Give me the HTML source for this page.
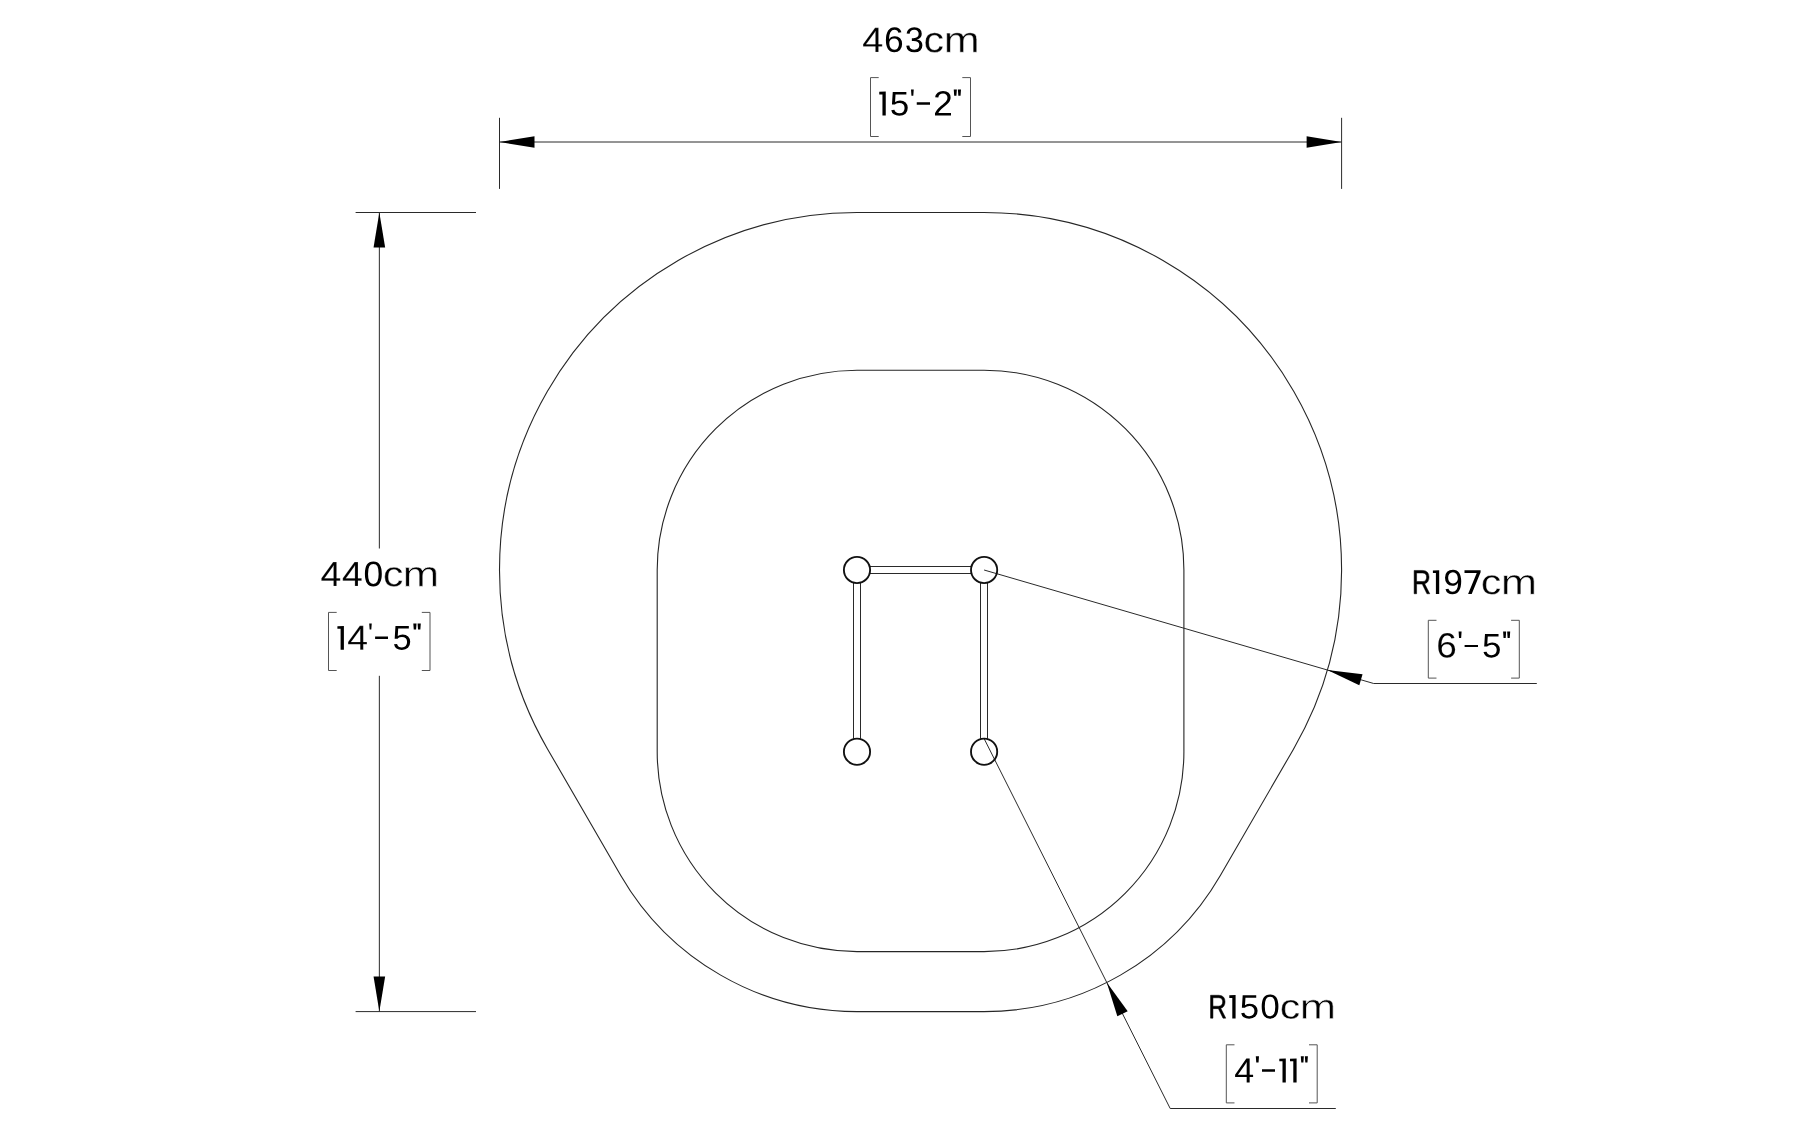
<!DOCTYPE html>
<html><head><meta charset="utf-8"><style>
html,body{margin:0;padding:0;background:#fff;width:1800px;height:1125px;overflow:hidden;font-family:"Liberation Sans",sans-serif}
svg{display:block}
.shape{fill:none;stroke:#262626;stroke-width:1.1}
.ext{stroke:#2a2a2a;stroke-width:1.0}
.dim{stroke:#2a2a2a;stroke-width:1.0;fill:none}
.br{fill:none;stroke:#555;stroke-width:1.0;stroke-linejoin:round;stroke-linecap:round}
.bar{fill:none;stroke:#2a2a2a;stroke-width:1.0}
.node{fill:none;stroke:#111;stroke-width:1.85}
</style></head><body>
<svg width="1800" height="1125" viewBox="0 0 1800 1125">
<path d='M 857.00 212.50 L 984.10 212.50 A 357.5 357.5 0 0 1 1293.46 749.17 L 1220.34 875.42 A 273.0 273.0 0 0 1 984.10 1011.60 L 857.00 1011.60 A 273.0 273.0 0 0 1 620.76 875.42 L 547.64 749.17 A 357.5 357.5 0 0 1 857.00 212.50 Z' class='shape'/>
<path d='M 857.00 370.20 L 984.10 370.20 A 199.8 199.8 0 0 1 1183.90 570.00 L 1183.90 751.80 A 199.8 199.8 0 0 1 984.10 951.60 L 857.00 951.60 A 199.8 199.8 0 0 1 657.20 751.80 L 657.20 570.00 A 199.8 199.8 0 0 1 857.00 370.20 Z' class='shape'/>
<line x1='499.5' y1='117.8' x2='499.5' y2='188.9' class='ext'/>
<line x1='1341.6' y1='117.8' x2='1341.6' y2='188.9' class='ext'/>
<line x1='499.5' y1='142.0' x2='1341.6' y2='142.0' class='dim'/>
<polygon points='499.50,142.00 534.50,147.80 534.50,136.20' fill='#000'/>
<polygon points='1341.60,142.00 1306.60,136.20 1306.60,147.80' fill='#000'/>
<line x1='355.6' y1='212.5' x2='476' y2='212.5' class='ext'/>
<line x1='355.6' y1='1011.6' x2='476' y2='1011.6' class='ext'/>
<line x1='379.35' y1='212.5' x2='379.35' y2='548.5' class='dim'/>
<line x1='379.35' y1='675.8' x2='379.35' y2='1011.6' class='dim'/>
<polygon points='379.35,212.50 373.55,247.50 385.15,247.50' fill='#000'/>
<polygon points='379.35,1011.60 385.15,976.60 373.55,976.60' fill='#000'/>
<polyline points='984.10,570.00 1373.70,683.50 1536.8,683.50' class='dim' fill='none'/>
<polygon points='1327.33,669.99 1359.31,685.35 1362.56,674.21' fill='#000'/>
<polyline points='984.10,738.60 1170.20,1108.50 1335.8,1108.50' class='dim' fill='none'/>
<polygon points='1106.80,982.47 1117.34,1016.35 1127.71,1011.13' fill='#000'/>
<path d='M 870 566.5 H 971 M 870 573.5 H 971' class='bar'/>
<path d='M 853.5 583 V 738.5 H 860.5 V 583 M 980.5 583 V 738.5 H 987.5 V 583' class='bar'/>
<circle cx='857.0' cy='570.0' r='13.1' class='node'/>
<circle cx='984.1' cy='570.0' r='13.1' class='node'/>
<circle cx='857.0' cy='751.7' r='13.1' class='node'/>
<circle cx='984.1' cy='751.7' r='13.1' class='node'/>
<path fill='#000' d='M902.10 43.97Q902.10 47.83 900.03 50.07Q897.95 52.30 894.30 52.30Q890.22 52.30 888.06 49.24Q885.90 46.17 885.90 40.32Q885.90 33.99 888.15 30.59Q890.39 27.20 894.54 27.20Q900.01 27.20 901.43 32.17L898.48 32.70Q897.57 29.73 894.51 29.73Q891.87 29.73 890.42 32.21Q888.97 34.70 888.97 39.40Q889.81 37.83 891.33 37.01Q892.86 36.18 894.83 36.18Q898.17 36.18 900.14 38.30Q902.10 40.41 902.10 43.97ZM898.96 44.11Q898.96 41.46 897.68 40.03Q896.39 38.59 894.09 38.59Q891.93 38.59 890.61 39.86Q889.28 41.13 889.28 43.37Q889.28 46.19 890.66 47.99Q892.04 49.79 894.20 49.79Q896.43 49.79 897.69 48.28Q898.96 46.76 898.96 44.11ZM922.40 45.22Q922.40 48.60 920.33 50.45Q918.26 52.30 914.43 52.30Q910.85 52.30 908.73 50.63Q906.60 48.96 906.20 45.69L909.30 45.39Q909.90 49.72 914.43 49.72Q916.69 49.72 917.99 48.56Q919.28 47.40 919.28 45.12Q919.28 43.13 917.80 42.01Q916.33 40.89 913.54 40.89L911.84 40.89L911.84 38.19L913.47 38.19Q915.94 38.19 917.30 37.08Q918.66 35.96 918.66 33.99Q918.66 32.03 917.55 30.90Q916.44 29.76 914.26 29.76Q912.27 29.76 911.05 30.82Q909.82 31.87 909.62 33.80L906.60 33.55Q906.93 30.56 908.99 28.88Q911.05 27.20 914.29 27.20Q917.83 27.20 919.79 28.91Q921.75 30.61 921.75 33.66Q921.75 35.99 920.49 37.46Q919.23 38.92 916.83 39.44L916.83 39.51Q919.46 39.80 920.93 41.34Q922.40 42.88 922.40 45.22ZM879.25 91.80L885.75 91.50L885.75 115.50L882.45 115.50L882.45 94.40L879.25 94.40ZM907.75 107.82Q907.75 111.54 905.50 113.67Q903.25 115.80 899.25 115.80Q895.91 115.80 893.85 114.37Q891.79 112.94 891.25 110.22L894.34 109.87Q895.31 113.35 899.32 113.35Q901.79 113.35 903.18 111.89Q904.57 110.44 904.57 107.89Q904.57 105.67 903.17 104.31Q901.77 102.94 899.39 102.94Q898.15 102.94 897.08 103.33Q896.01 103.71 894.94 104.62L891.95 104.62L892.75 92.00L906.36 92.00L906.36 94.55L895.53 94.55L895.07 101.99Q897.06 100.49 900.02 100.49Q903.55 100.49 905.65 102.53Q907.75 104.56 907.75 107.82ZM911.00 89.50L913.75 89.50L913.30 95.75L911.45 95.75ZM916.75 102.25H930.00V104.75H916.75ZM935.00 115.50L935.00 113.32Q935.87 111.32 937.14 109.79Q938.40 108.25 939.78 107.01Q941.17 105.77 942.54 104.71Q943.90 103.64 945.00 102.58Q946.10 101.52 946.77 100.35Q947.45 99.19 947.45 97.72Q947.45 95.73 946.28 94.63Q945.12 93.54 943.04 93.54Q941.07 93.54 939.79 94.61Q938.52 95.68 938.29 97.61L935.14 97.32Q935.48 94.43 937.60 92.71Q939.72 91.00 943.04 91.00Q946.70 91.00 948.66 92.72Q950.62 94.44 950.62 97.61Q950.62 99.02 949.98 100.41Q949.34 101.79 948.07 103.18Q946.80 104.57 943.21 107.48Q941.24 109.09 940.08 110.39Q938.91 111.68 938.40 112.88L951.00 112.88L951.00 115.50ZM953.75 89.50L956.87 89.50L956.42 95.75L954.20 95.75ZM957.88 89.50L961.00 89.50L960.55 95.75L958.33 95.75ZM381.80 573.95Q381.80 580.01 379.65 583.21Q377.50 586.40 373.31 586.40Q369.11 586.40 367.01 583.22Q364.90 580.05 364.90 573.95Q364.90 567.72 366.95 564.61Q368.99 561.50 373.41 561.50Q377.71 561.50 379.75 564.64Q381.80 567.79 381.80 573.95ZM378.64 573.95Q378.64 568.71 377.42 566.36Q376.21 564.01 373.41 564.01Q370.54 564.01 369.29 566.33Q368.04 568.64 368.04 573.95Q368.04 579.10 369.31 581.49Q370.58 583.88 373.34 583.88Q376.09 583.88 377.36 581.44Q378.64 579.00 378.64 573.95ZM337.40 626.20L343.90 625.90L343.90 649.70L340.60 649.70L340.60 628.80L337.40 628.80ZM369.20 623.40L371.75 623.40L371.30 629.60L369.65 629.60ZM375.10 636.50H388.00V638.90H375.10ZM410.20 641.86Q410.20 645.60 407.99 647.75Q405.78 649.90 401.86 649.90Q398.57 649.90 396.55 648.46Q394.53 647.01 394.00 644.27L397.04 643.92Q397.99 647.43 401.92 647.43Q404.34 647.43 405.71 645.96Q407.08 644.49 407.08 641.92Q407.08 639.69 405.70 638.31Q404.33 636.93 401.99 636.93Q400.77 636.93 399.72 637.32Q398.67 637.71 397.62 638.63L394.68 638.63L395.47 625.90L408.83 625.90L408.83 628.47L398.20 628.47L397.75 635.98Q399.71 634.47 402.61 634.47Q406.08 634.47 408.14 636.51Q410.20 638.56 410.20 641.86ZM413.30 623.40L416.53 623.40L416.08 629.60L413.75 629.60ZM417.57 623.40L420.80 623.40L420.35 629.60L418.02 629.60ZM1432.90 570.50L1439.20 570.20L1439.20 594.00L1435.90 594.00L1435.90 573.10L1432.90 573.10ZM1461.20 581.52Q1461.20 587.68 1458.93 590.99Q1456.66 594.30 1452.47 594.30Q1449.64 594.30 1447.94 593.12Q1446.23 591.94 1445.50 589.31L1448.44 588.85Q1449.37 591.84 1452.52 591.84Q1455.17 591.84 1456.63 589.40Q1458.08 586.95 1458.15 582.42Q1457.47 583.95 1455.81 584.88Q1454.14 585.80 1452.16 585.80Q1448.90 585.80 1446.95 583.59Q1445.00 581.39 1445.00 577.74Q1445.00 573.99 1447.12 571.85Q1449.25 569.70 1453.03 569.70Q1457.06 569.70 1459.13 572.65Q1461.20 575.60 1461.20 581.52ZM1457.84 578.57Q1457.84 575.69 1456.51 573.93Q1455.17 572.18 1452.93 572.18Q1450.70 572.18 1449.42 573.68Q1448.13 575.18 1448.13 577.74Q1448.13 580.35 1449.42 581.87Q1450.70 583.39 1452.89 583.39Q1454.23 583.39 1455.38 582.79Q1456.52 582.19 1457.18 581.08Q1457.84 579.98 1457.84 578.57ZM1464.50 570.20L1480.60 570.20L1480.60 572.30L1471.71 594.00L1468.11 594.00L1476.74 572.90L1464.50 572.90ZM1458.60 631.40L1461.60 631.40L1461.15 638.10L1459.05 638.10ZM1464.60 645.00H1478.00V647.10H1464.60ZM1499.90 649.72Q1499.90 653.44 1497.66 655.57Q1495.42 657.70 1491.46 657.70Q1488.13 657.70 1486.08 656.27Q1484.04 654.84 1483.50 652.12L1486.57 651.77Q1487.54 655.25 1491.52 655.25Q1493.97 655.25 1495.36 653.79Q1496.74 652.34 1496.74 649.79Q1496.74 647.57 1495.35 646.21Q1493.95 644.84 1491.59 644.84Q1490.36 644.84 1489.29 645.23Q1488.23 645.61 1487.17 646.52L1484.19 646.52L1484.99 633.90L1498.52 633.90L1498.52 636.45L1487.76 636.45L1487.30 643.89Q1489.28 642.39 1492.22 642.39Q1495.73 642.39 1497.81 644.43Q1499.90 646.46 1499.90 649.72ZM1503.10 631.40L1506.15 631.40L1505.70 638.10L1503.55 638.10ZM1507.15 631.40L1510.20 631.40L1509.75 638.10L1507.60 638.10ZM1229.30 995.30L1235.60 995.00L1235.60 1018.40L1232.30 1018.40L1232.30 997.90L1229.30 997.90ZM1257.60 1010.86Q1257.60 1014.51 1255.36 1016.60Q1253.12 1018.70 1249.16 1018.70Q1245.83 1018.70 1243.78 1017.29Q1241.74 1015.88 1241.20 1013.21L1244.27 1012.87Q1245.24 1016.29 1249.22 1016.29Q1251.67 1016.29 1253.06 1014.86Q1254.44 1013.43 1254.44 1010.92Q1254.44 1008.74 1253.05 1007.40Q1251.65 1006.06 1249.29 1006.06Q1248.06 1006.06 1246.99 1006.44Q1245.93 1006.81 1244.87 1007.71L1241.89 1007.71L1242.69 995.30L1256.22 995.30L1256.22 997.81L1245.46 997.81L1245.00 1005.13Q1246.98 1003.65 1249.92 1003.65Q1253.43 1003.65 1255.51 1005.65Q1257.60 1007.65 1257.60 1010.86ZM1278.40 1006.55Q1278.40 1012.47 1276.28 1015.58Q1274.15 1018.70 1270.01 1018.70Q1265.86 1018.70 1263.78 1015.60Q1261.70 1012.50 1261.70 1006.55Q1261.70 1000.47 1263.72 997.43Q1265.74 994.40 1270.11 994.40Q1274.36 994.40 1276.38 997.47Q1278.40 1000.53 1278.40 1006.55ZM1275.28 1006.55Q1275.28 1001.44 1274.08 999.14Q1272.87 996.85 1270.11 996.85Q1267.28 996.85 1266.04 999.11Q1264.80 1001.37 1264.80 1006.55Q1264.80 1011.58 1266.06 1013.91Q1267.31 1016.24 1270.04 1016.24Q1272.75 1016.24 1274.02 1013.86Q1275.28 1011.48 1275.28 1006.55ZM1249.65 1077.12L1249.65 1082.60L1246.68 1082.60L1246.68 1077.12L1235.10 1077.12L1235.10 1074.72L1246.35 1058.40L1249.65 1058.40L1249.65 1074.68L1253.10 1074.68L1253.10 1077.12ZM1246.68 1061.89Q1246.65 1061.99 1246.19 1062.80Q1245.74 1063.60 1245.51 1063.93L1239.22 1073.07L1238.27 1074.34L1238.00 1074.68L1246.68 1074.68ZM1255.80 1056.30L1259.00 1056.30L1258.55 1062.50L1256.25 1062.50ZM1262.00 1069.20H1275.00V1071.70H1262.00ZM1279.30 1058.70L1285.80 1058.40L1285.80 1082.60L1282.50 1082.60L1282.50 1061.30L1279.30 1061.30ZM1290.00 1058.70L1296.60 1058.40L1296.60 1082.60L1293.30 1082.60L1293.30 1061.30L1290.00 1061.30ZM1300.80 1056.30L1303.85 1056.30L1303.40 1062.50L1301.25 1062.50ZM1304.85 1056.30L1307.90 1056.30L1307.45 1062.50L1305.30 1062.50Z'/>
<path fill='#000' stroke='#fff' stroke-width='0.23' stroke-linejoin='round' d='M878.54 46.61L878.54 52.11L875.39 52.11L875.39 46.61L863.09 46.61L863.09 44.19L875.04 27.79L878.54 27.79L878.54 44.15L882.21 44.15L882.21 46.61ZM875.39 31.29Q875.36 31.40 874.87 32.21Q874.39 33.02 874.15 33.35L867.46 42.53L866.46 43.81L866.16 44.15L875.39 44.15Z'/>
<path fill='#000' stroke='#fff' stroke-width='0.42' stroke-linejoin='round' d='M929.04 42.56Q929.04 46.36 930.40 48.19Q931.75 50.02 934.49 50.02Q936.41 50.02 937.69 49.10Q938.98 48.19 939.28 46.29L942.91 46.50Q942.49 49.24 940.26 50.88Q938.02 52.51 934.59 52.51Q930.06 52.51 927.67 49.99Q925.29 47.47 925.29 42.63Q925.29 37.83 927.68 35.31Q930.08 32.79 934.55 32.79Q937.86 32.79 940.05 34.30Q942.23 35.81 942.79 38.47L939.10 38.71Q938.82 37.13 937.68 36.20Q936.54 35.27 934.45 35.27Q931.60 35.27 930.32 36.94Q929.04 38.61 929.04 42.56Z'/>
<path fill='#000' stroke='#fff' stroke-width='0.63' stroke-linejoin='round' d='M959.90 52.31L959.90 40.10Q959.90 37.30 958.99 36.23Q958.09 35.16 955.73 35.16Q953.31 35.16 951.89 36.73Q950.48 38.30 950.48 41.15L950.48 52.31L946.71 52.31L946.71 37.16Q946.71 33.79 946.59 33.04L950.17 33.04Q950.19 33.13 950.21 33.52Q950.23 33.91 950.26 34.42Q950.29 34.93 950.34 36.34L950.40 36.34Q951.62 34.29 953.20 33.49Q954.78 32.69 957.06 32.69Q959.65 32.69 961.15 33.56Q962.66 34.43 963.25 36.34L963.31 36.34Q964.49 34.40 966.17 33.54Q967.84 32.69 970.22 32.69Q973.68 32.69 975.24 34.27Q976.81 35.86 976.81 39.47L976.81 52.31L973.06 52.31L973.06 40.10Q973.06 37.30 972.16 36.23Q971.25 35.16 968.89 35.16Q966.41 35.16 965.03 36.72Q963.65 38.28 963.65 41.15L963.65 52.31Z'/>
<path fill='#000' stroke='#fff' stroke-width='0.21' stroke-linejoin='round' d='M336.60 580.67L336.60 586.11L333.50 586.11L333.50 580.67L321.39 580.67L321.39 578.28L333.15 562.09L336.60 562.09L336.60 578.25L340.21 578.25L340.21 580.67ZM333.50 565.55Q333.46 565.65 332.99 566.46Q332.51 567.26 332.28 567.58L325.70 576.65L324.71 577.91L324.42 578.25L333.50 578.25Z'/>
<path fill='#000' stroke='#fff' stroke-width='0.21' stroke-linejoin='round' d='M358.00 580.67L358.00 586.11L354.90 586.11L354.90 580.67L342.79 580.67L342.79 578.28L354.55 562.09L358.00 562.09L358.00 578.25L361.61 578.25L361.61 580.67ZM354.90 565.55Q354.86 565.65 354.39 566.46Q353.91 567.26 353.68 567.58L347.10 576.65L346.11 577.91L345.82 578.25L354.90 578.25Z'/>
<path fill='#000' stroke='#fff' stroke-width='0.48' stroke-linejoin='round' d='M388.42 576.81Q388.42 580.56 389.79 582.37Q391.15 584.17 393.89 584.17Q395.81 584.17 397.10 583.27Q398.40 582.37 398.70 580.49L402.34 580.70Q401.92 583.41 399.68 585.03Q397.43 586.64 393.99 586.64Q389.45 586.64 387.05 584.15Q384.66 581.66 384.66 576.88Q384.66 572.14 387.06 569.65Q389.47 567.16 393.95 567.16Q397.27 567.16 399.47 568.65Q401.66 570.15 402.22 572.77L398.52 573.01Q398.24 571.45 397.09 570.53Q395.95 569.61 393.85 569.61Q390.99 569.61 389.71 571.26Q388.42 572.91 388.42 576.81Z'/>
<path fill='#000' stroke='#fff' stroke-width='0.76' stroke-linejoin='round' d='M419.07 586.38L419.07 574.33Q419.07 571.57 418.15 570.51Q417.22 569.46 414.82 569.46Q412.36 569.46 410.92 571.01Q409.48 572.55 409.48 575.36L409.48 586.38L405.65 586.38L405.65 571.43Q405.65 568.11 405.52 567.37L409.16 567.37Q409.18 567.46 409.21 567.84Q409.23 568.23 409.26 568.73Q409.29 569.23 409.33 570.62L409.40 570.62Q410.64 568.60 412.25 567.81Q413.86 567.02 416.17 567.02Q418.81 567.02 420.34 567.88Q421.88 568.74 422.48 570.62L422.54 570.62Q423.74 568.71 425.44 567.86Q427.15 567.02 429.57 567.02Q433.09 567.02 434.68 568.58Q436.28 570.15 436.28 573.71L436.28 586.38L432.47 586.38L432.47 574.33Q432.47 571.57 431.54 570.51Q430.62 569.46 428.22 569.46Q425.69 569.46 424.29 571.00Q422.88 572.54 422.88 575.36L422.88 586.38Z'/>
<path fill='#000' stroke='#fff' stroke-width='0.21' stroke-linejoin='round' d='M363.30 644.37L363.30 649.81L360.20 649.81L360.20 644.37L348.09 644.37L348.09 641.98L359.85 625.79L363.30 625.79L363.30 641.95L366.91 641.95L366.91 644.37ZM360.20 629.25Q360.16 629.35 359.69 630.16Q359.21 630.96 358.98 631.28L352.40 640.35L351.41 641.61L351.12 641.95L360.20 641.95Z'/>
<path fill='#000' stroke='#000' stroke-width='0.50' stroke-linejoin='round' d='M1426.93 593.75L1422.23 584.08L1416.60 584.08L1416.60 593.75L1414.15 593.75L1414.15 570.45L1422.66 570.45Q1425.71 570.45 1427.37 572.21Q1429.03 573.97 1429.03 577.11Q1429.03 579.71 1427.86 581.48Q1426.68 583.25 1424.62 583.71L1429.75 593.75ZM1426.57 577.15Q1426.57 575.11 1425.50 574.05Q1424.43 572.98 1422.41 572.98L1416.60 572.98L1416.60 581.58L1422.51 581.58Q1424.45 581.58 1425.51 580.41Q1426.57 579.25 1426.57 577.15Z'/>
<path fill='#000' stroke='#fff' stroke-width='0.50' stroke-linejoin='round' d='M1486.32 584.76Q1486.32 588.50 1487.68 590.30Q1489.04 592.09 1491.79 592.09Q1493.72 592.09 1495.01 591.20Q1496.30 590.30 1496.60 588.43L1500.25 588.64Q1499.83 591.33 1497.58 592.94Q1495.34 594.55 1491.89 594.55Q1487.34 594.55 1484.95 592.07Q1482.55 589.59 1482.55 584.83Q1482.55 580.11 1484.96 577.63Q1487.36 575.15 1491.85 575.15Q1495.18 575.15 1497.37 576.64Q1499.57 578.12 1500.13 580.73L1496.42 580.98Q1496.14 579.42 1495.00 578.50Q1493.86 577.59 1491.75 577.59Q1488.88 577.59 1487.60 579.23Q1486.32 580.87 1486.32 584.76Z'/>
<path fill='#000' stroke='#fff' stroke-width='0.72' stroke-linejoin='round' d='M1517.14 594.36L1517.14 582.33Q1517.14 579.58 1516.23 578.53Q1515.31 577.48 1512.94 577.48Q1510.50 577.48 1509.08 579.02Q1507.66 580.56 1507.66 583.37L1507.66 594.36L1503.87 594.36L1503.87 579.44Q1503.87 576.13 1503.74 575.39L1507.34 575.39Q1507.36 575.48 1507.38 575.86Q1507.41 576.25 1507.44 576.75Q1507.47 577.25 1507.51 578.63L1507.58 578.63Q1508.81 576.62 1510.40 575.83Q1511.99 575.04 1514.28 575.04Q1516.88 575.04 1518.40 575.90Q1519.91 576.76 1520.51 578.63L1520.57 578.63Q1521.76 576.72 1523.44 575.88Q1525.13 575.04 1527.53 575.04Q1531.00 575.04 1532.58 576.60Q1534.16 578.16 1534.16 581.72L1534.16 594.36L1530.39 594.36L1530.39 582.33Q1530.39 579.58 1529.48 578.53Q1528.56 577.48 1526.19 577.48Q1523.69 577.48 1522.30 579.01Q1520.91 580.54 1520.91 583.37L1520.91 594.36Z'/>
<path fill='#000' stroke='#fff' stroke-width='0.17' stroke-linejoin='round' d='M1455.18 649.60Q1455.18 653.39 1453.01 655.59Q1450.84 657.78 1447.01 657.78Q1442.74 657.78 1440.48 654.77Q1438.22 651.76 1438.22 646.01Q1438.22 639.79 1440.57 636.45Q1442.92 633.12 1447.27 633.12Q1452.99 633.12 1454.48 638.00L1451.40 638.53Q1450.44 635.60 1447.23 635.60Q1444.46 635.60 1442.95 638.04Q1441.43 640.48 1441.43 645.11Q1442.31 643.56 1443.91 642.75Q1445.51 641.95 1447.57 641.95Q1451.07 641.95 1453.13 644.02Q1455.18 646.10 1455.18 649.60ZM1451.90 649.74Q1451.90 647.13 1450.55 645.72Q1449.20 644.31 1446.80 644.31Q1444.54 644.31 1443.15 645.56Q1441.75 646.81 1441.75 649.01Q1441.75 651.78 1443.20 653.55Q1444.64 655.32 1446.91 655.32Q1449.24 655.32 1450.57 653.83Q1451.90 652.34 1451.90 649.74Z'/>
<path fill='#000' stroke='#000' stroke-width='0.50' stroke-linejoin='round' d='M1223.00 1018.15L1218.42 1008.64L1212.94 1008.64L1212.94 1018.15L1210.55 1018.15L1210.55 995.25L1218.84 995.25Q1221.81 995.25 1223.43 996.98Q1225.05 998.71 1225.05 1001.80Q1225.05 1004.35 1223.91 1006.09Q1222.76 1007.83 1220.75 1008.28L1225.75 1018.15ZM1222.65 1001.83Q1222.65 999.83 1221.61 998.78Q1220.56 997.74 1218.60 997.74L1212.94 997.74L1212.94 1006.19L1218.70 1006.19Q1220.59 1006.19 1221.62 1005.04Q1222.65 1003.90 1222.65 1001.83Z'/>
<path fill='#000' stroke='#fff' stroke-width='0.56' stroke-linejoin='round' d='M1285.28 1009.37Q1285.28 1013.03 1286.64 1014.80Q1288.00 1016.57 1290.74 1016.57Q1292.66 1016.57 1293.95 1015.68Q1295.24 1014.80 1295.54 1012.97L1299.18 1013.17Q1298.76 1015.82 1296.52 1017.40Q1294.28 1018.98 1290.84 1018.98Q1286.30 1018.98 1283.91 1016.54Q1281.52 1014.10 1281.52 1009.43Q1281.52 1004.80 1283.92 1002.36Q1286.32 999.92 1290.80 999.92Q1294.12 999.92 1296.31 1001.38Q1298.50 1002.84 1299.06 1005.41L1295.36 1005.65Q1295.08 1004.12 1293.94 1003.22Q1292.80 1002.32 1290.70 1002.32Q1287.84 1002.32 1286.56 1003.93Q1285.28 1005.54 1285.28 1009.37Z'/>
<path fill='#000' stroke='#fff' stroke-width='0.80' stroke-linejoin='round' d='M1316.08 1018.80L1316.08 1006.97Q1316.08 1004.27 1315.16 1003.23Q1314.24 1002.20 1311.85 1002.20Q1309.40 1002.20 1307.97 1003.71Q1306.54 1005.23 1306.54 1007.99L1306.54 1018.80L1302.73 1018.80L1302.73 1004.13Q1302.73 1000.87 1302.60 1000.14L1306.23 1000.14Q1306.25 1000.23 1306.27 1000.61Q1306.29 1000.99 1306.32 1001.48Q1306.35 1001.97 1306.40 1003.33L1306.46 1003.33Q1307.70 1001.35 1309.30 1000.58Q1310.90 999.80 1313.20 999.80Q1315.82 999.80 1317.35 1000.64Q1318.87 1001.49 1319.47 1003.33L1319.53 1003.33Q1320.73 1001.46 1322.42 1000.63Q1324.12 999.80 1326.53 999.80Q1330.02 999.80 1331.61 1001.33Q1333.20 1002.87 1333.20 1006.37L1333.20 1018.80L1329.40 1018.80L1329.40 1006.97Q1329.40 1004.27 1328.49 1003.23Q1327.57 1002.20 1325.18 1002.20Q1322.67 1002.20 1321.27 1003.71Q1319.87 1005.21 1319.87 1007.99L1319.87 1018.80Z'/>
<path d='M 878.30 77.60 H 870.50 V 136.50 H 878.30 M 962.70 77.60 H 970.50 V 136.50 H 962.70' class='br'/>
<path d='M 336.30 612.40 H 328.50 V 670.50 H 336.30 M 422.20 612.40 H 430.00 V 670.50 H 422.20' class='br'/>
<path d='M 1436.10 620.30 H 1428.30 V 678.10 H 1436.10 M 1511.50 620.30 H 1519.30 V 678.10 H 1511.50' class='br'/>
<path d='M 1234.10 1044.80 H 1226.30 V 1102.90 H 1234.10 M 1309.40 1044.80 H 1317.20 V 1102.90 H 1309.40' class='br'/>
</svg>
</body></html>
